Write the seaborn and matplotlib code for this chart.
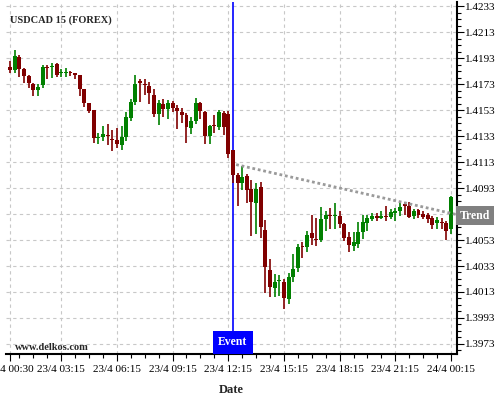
import numpy as np
import pandas as pd
import seaborn as sns
import matplotlib.pyplot as plt
import matplotlib.transforms as mtransforms
from matplotlib.ticker import FixedLocator

# USDCAD 15 min candles, 23/4 00:30 -> 24/4 00:15
opens = [1.41861, 1.41841, 1.41938, 1.41844, 1.41793, 1.41732, 1.41681, 1.41722, 1.41861, 1.41859,
         1.41884, 1.41818, 1.41818, 1.41826, 1.41808, 1.41798, 1.41689, 1.41582, 1.41531, 1.41315,
         1.41320, 1.41340, 1.41305, 1.41297, 1.41261, 1.41322, 1.41468, 1.41590, 1.41755, 1.41728,
         1.41717, 1.41646, 1.41498, 1.41575, 1.41536, 1.41587, 1.41549, 1.41511, 1.41493, 1.41391,
         1.41442, 1.41587, 1.41511, 1.41327, 1.41411, 1.41396, 1.41506, 1.41501, 1.41220, 1.41033,
         1.40970, 1.41020, 1.40926, 1.40817, 1.40936, 1.40608, 1.40302, 1.40159, 1.40213, 1.40210,
         1.40078, 1.40248, 1.40312, 1.40478, 1.40473, 1.40587, 1.40534, 1.40529, 1.40694, 1.40722,
         1.40717, 1.40715, 1.40650, 1.40556, 1.40481, 1.40499, 1.40589, 1.40663, 1.40693, 1.40713,
         1.40701, 1.40713, 1.40708, 1.40739, 1.40752, 1.40810, 1.40795, 1.40713, 1.40764, 1.40731,
         1.40719, 1.40696, 1.40657, 1.40668, 1.40657, 1.40612]
highs = [1.41905, 1.41988, 1.41950, 1.41854, 1.41798, 1.41739, 1.41727, 1.41879, 1.41879, 1.41892,
         1.41892, 1.41849, 1.41854, 1.41832, 1.41811, 1.41798, 1.41689, 1.41582, 1.41531, 1.41353,
         1.41404, 1.41422, 1.41379, 1.41391, 1.41409, 1.41511, 1.41613, 1.41799, 1.41766, 1.41766,
         1.41748, 1.41689, 1.41608, 1.41613, 1.41608, 1.41600, 1.41569, 1.41544, 1.41506, 1.41480,
         1.41626, 1.41595, 1.41519, 1.41417, 1.41493, 1.41531, 1.41519, 1.41519, 1.41225, 1.41046,
         1.41097, 1.41038, 1.40995, 1.40970, 1.40977, 1.40682, 1.40383, 1.40269, 1.40264, 1.40230,
         1.40274, 1.40422, 1.40498, 1.40511, 1.40600, 1.40722, 1.40702, 1.40783, 1.40753, 1.40778,
         1.40817, 1.40753, 1.40662, 1.40589, 1.40589, 1.40666, 1.40725, 1.40721, 1.40739, 1.40739,
         1.40752, 1.40795, 1.40770, 1.40777, 1.40828, 1.40821, 1.40823, 1.40770, 1.40770, 1.40752,
         1.40739, 1.40713, 1.40708, 1.40701, 1.40675, 1.40871]
lows = [1.41818, 1.41811, 1.41785, 1.41737, 1.41701, 1.41640, 1.41640, 1.41701, 1.41772, 1.41777,
        1.41785, 1.41785, 1.41785, 1.41788, 1.41772, 1.41640, 1.41556, 1.41506, 1.41277, 1.41269,
        1.41290, 1.41264, 1.41213, 1.41238, 1.41226, 1.41289, 1.41442, 1.41570, 1.41595, 1.41646,
        1.41577, 1.41480, 1.41417, 1.41480, 1.41460, 1.41511, 1.41386, 1.41429, 1.41277, 1.41348,
        1.41424, 1.41460, 1.41271, 1.41271, 1.41353, 1.41379, 1.41335, 1.41162, 1.40971, 1.40791,
        1.40911, 1.40817, 1.40562, 1.40575, 1.40544, 1.40121, 1.40091, 1.40091, 1.40103, 1.40001,
        1.40039, 1.40205, 1.40282, 1.40391, 1.40435, 1.40493, 1.40486, 1.40511, 1.40600, 1.40613,
        1.40613, 1.40621, 1.40522, 1.40435, 1.40448, 1.40468, 1.40538, 1.40599, 1.40675, 1.40675,
        1.40688, 1.40675, 1.40693, 1.40675, 1.40713, 1.40719, 1.40701, 1.40688, 1.40701, 1.40688,
        1.40657, 1.40612, 1.40617, 1.40612, 1.40530, 1.40573]
closes = [1.41841, 1.41945, 1.41849, 1.41788, 1.41739, 1.41681, 1.41709, 1.41861, 1.41854, 1.41869,
          1.41803, 1.41823, 1.41823, 1.41811, 1.41803, 1.41689, 1.41587, 1.41526, 1.41315, 1.41323,
          1.41348, 1.41328, 1.41300, 1.41271, 1.41322, 1.41473, 1.41595, 1.41730, 1.41735, 1.41720,
          1.41659, 1.41498, 1.41587, 1.41536, 1.41587, 1.41549, 1.41519, 1.41493, 1.41396, 1.41442,
          1.41587, 1.41519, 1.41327, 1.41404, 1.41406, 1.41511, 1.41396, 1.41195, 1.41030, 1.40970,
          1.41013, 1.40913, 1.40824, 1.40926, 1.40633, 1.40325, 1.40167, 1.40210, 1.40218, 1.40083,
          1.40248, 1.40307, 1.40473, 1.40473, 1.40570, 1.40549, 1.40529, 1.40689, 1.40722, 1.40717,
          1.40722, 1.40656, 1.40548, 1.40492, 1.40512, 1.40589, 1.40666, 1.40701, 1.40713, 1.40701,
          1.40713, 1.40708, 1.40744, 1.40752, 1.40782, 1.40795, 1.40708, 1.40752, 1.40719, 1.40708,
          1.40688, 1.40645, 1.40683, 1.40662, 1.40599, 1.40859]

tick_idx = [0, 11, 23, 35, 47, 59, 71, 83, 95]
tick_labels = ['23/4 00:30', '23/4 03:15', '23/4 06:15', '23/4 09:15', '23/4 12:15',
               '23/4 15:15', '23/4 18:15', '23/4 21:15', '24/4 00:15']
event_idx = 48
trend_x = [48.7, 96.3]
trend_y = [1.4111, 1.40725]

sns.set_theme(style='white')
plt.rcParams['font.family'] = ['Liberation Serif', 'DejaVu Serif']

df = pd.DataFrame({'open': opens, 'high': highs, 'low': lows, 'close': closes})
df['idx'] = np.arange(len(df))
df['color'] = np.where(df['close'] >= df['open'], '#008000', '#800000')
df['bottom'] = df[['open', 'close']].min(axis=1)
df['height'] = (df['close'] - df['open']).abs().clip(lower=0.00008)

fig = plt.figure(figsize=(5, 4), dpi=100)
ax = fig.add_axes([0.012, 0.115, 0.902, 0.88])

# candles
ax.vlines(df['idx'], df['low'], df['high'], color=df['color'], lw=1.2, zorder=3)
ax.bar(df['idx'], df['height'], bottom=df['bottom'], width=0.85,
       color=df['color'], lw=0, zorder=4)

# trend + event
sns.lineplot(x=trend_x, y=trend_y, ax=ax, color='#9a9a9a', lw=2,
             linestyle=(0, (1, 1)), zorder=5)
ax.axvline(event_idx, color='#0000ff', lw=1.2, zorder=2)

trans = mtransforms.blended_transform_factory(ax.transData, ax.transAxes)
ax.text(event_idx, 0.016, 'Event', transform=trans, ha='center', va='bottom',
        color='white', fontweight='bold', fontsize=8.5, zorder=6,
        bbox=dict(boxstyle='square,pad=0.45', fc='#0000ff', ec='none'))
trans2 = mtransforms.blended_transform_factory(ax.transAxes, ax.transData)
ax.text(1.04, trend_y[-1] - 0.0001, 'Trend', transform=trans2, ha='center', va='center',
        color='white', fontweight='bold', fontsize=8.5, zorder=6, clip_on=False,
        bbox=dict(boxstyle='square,pad=0.3', fc='#808080', ec='none'))

ax.set_xlim(-0.9, 96.3)
ax.set_ylim(1.39653, 1.42361)

ax.yaxis.tick_right()
ax.yaxis.set_major_locator(FixedLocator(np.arange(1.3973, 1.4234, 0.002)))
ax.yaxis.set_minor_locator(FixedLocator(np.arange(1.3968, 1.4237, 0.0005)))
# the 1.4073 label sits under the Trend box, so leave it blank
ax.yaxis.set_major_formatter(plt.FuncFormatter(
    lambda v, p: '' if abs(v - 1.4073) < 1e-6 else f'{v:.4f}'))
ax.set_xticks(tick_idx)
ax.set_xticklabels(tick_labels)
ax.xaxis.set_minor_locator(FixedLocator(np.arange(2, 96, 3)))

ax.tick_params(axis='both', which='both', direction='out', colors='black',
               labelsize=8, width=0.8)
ax.tick_params(axis='y', which='major', length=5, pad=1, right=True, left=False)
ax.tick_params(axis='y', which='minor', length=3, right=True, left=False)
ax.tick_params(axis='x', which='major', length=5, pad=3, bottom=True)
ax.tick_params(axis='x', which='minor', length=3, bottom=True)

ax.grid(which='major', color='#c8c8c8', linestyle=(0, (3, 3)), lw=0.8)
for side in ['top', 'left']:
    ax.spines[side].set_visible(False)
for side in ['right', 'bottom']:
    ax.spines[side].set_color('black')
    ax.spines[side].set_linewidth(1.5)

ax.set_xlabel('Date', fontweight='bold', fontsize=9, labelpad=7)
ax.set_ylabel('')

fig.text(0.02, 0.95, 'USDCAD 15 (FOREX)', fontweight='bold', fontsize=7.5,
         ha='left', va='center')
fig.text(0.03, 0.13, 'www.delkos.com', fontweight='bold', fontsize=7.5,
         ha='left', va='center')

fig.savefig('out.png', dpi=100)
